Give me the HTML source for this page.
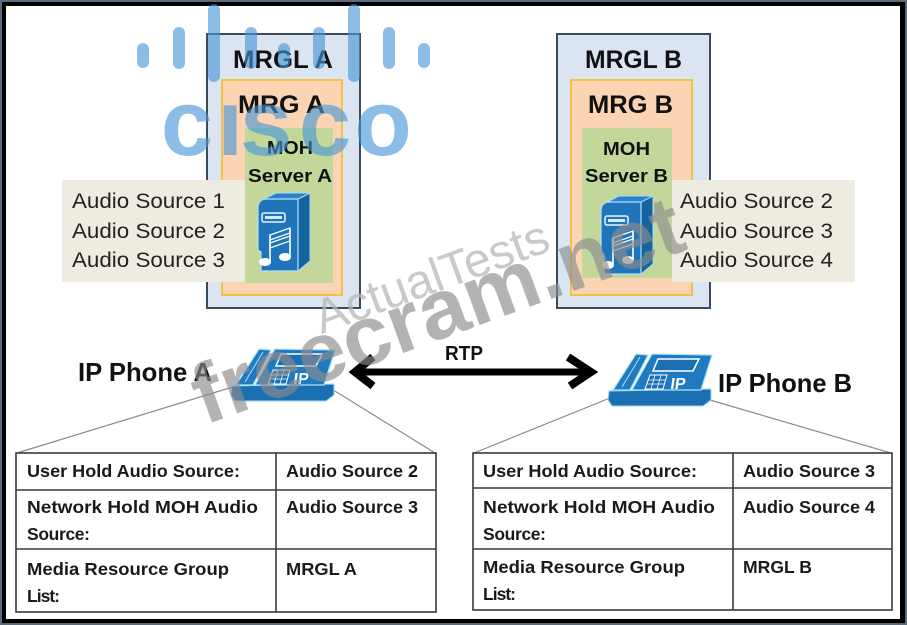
<!DOCTYPE html>
<html><head><meta charset="utf-8"><style>
html,body{margin:0;padding:0;background:#fff;}
svg{display:block;}
</style></head><body>
<svg width="907" height="625" viewBox="0 0 907 625" xmlns="http://www.w3.org/2000/svg" font-family="'Liberation Sans', sans-serif">
<defs>
<g id="srv">
  <polygon points="43,7 55,1 55,69 43,79" fill="#16649f" stroke="#a8d8f5" stroke-width="1"/>
  <polygon points="9,7 43,7 55,1 21,1" fill="#2a82c6" stroke="#a8d8f5" stroke-width="1"/>
  <path d="M3,16 Q3,7 12,7 L43,7 L43,79 L6,79 L6,60 L3,58 Z" fill="#1f74ba" stroke="#b5e0f7" stroke-width="1.2"/>
  <rect x="7" y="21" width="23" height="9" rx="2" fill="none" stroke="#e8f6ff" stroke-width="1.5"/>
  <rect x="10" y="24" width="17" height="3" fill="#cfeeff"/>
  <polygon points="15,43 35,36 35,41 15,48" fill="#1f74ba" stroke="#fff" stroke-width="1.2"/>
  <polygon points="15,51 35,44 35,49 15,56" fill="#1f74ba" stroke="#fff" stroke-width="1.2"/>
  <line x1="15" y1="43" x2="15" y2="69" stroke="#fff" stroke-width="1.6"/>
  <line x1="35" y1="36" x2="35" y2="64" stroke="#fff" stroke-width="1.6"/>
  <ellipse cx="10" cy="70" rx="6" ry="4" fill="#fff"/>
  <ellipse cx="30" cy="65" rx="6" ry="4" fill="#fff"/>
</g>
<g id="phone">
  <polygon points="9,46 111,44 111,55 103,61 12,61 8,55" fill="#1a6fb3" stroke="#9fd4f4" stroke-width="1"/>
  <polygon points="32,45 101,45 112,10 52,9" fill="#1f7ac0" stroke="#b0e0f8" stroke-width="1.2"/>
  <polygon points="13,45 30,45 48,10 36,9" fill="#1f7ac0" stroke="#b0e0f8" stroke-width="1.2"/>
  <line x1="22" y1="42" x2="40" y2="12" stroke="#b0e0f8" stroke-width="1"/>
  <polygon points="58,14 99,14 93,26 53,26" fill="#1a6fb3" stroke="#fff" stroke-width="1.5"/>
  <polygon points="50,30 67,30 63,44 45,44" fill="#1a6fb3" stroke="#fff" stroke-width="1"/>
  <line x1="48" y1="35" x2="66" y2="35" stroke="#fff" stroke-width="0.8"/>
  <line x1="47" y1="39" x2="65" y2="39" stroke="#fff" stroke-width="0.8"/>
  <line x1="55" y1="30" x2="51" y2="44" stroke="#fff" stroke-width="0.8"/>
  <line x1="61" y1="30" x2="57" y2="44" stroke="#fff" stroke-width="0.8"/>
  <text x="70" y="44" font-size="16" font-weight="bold" fill="#fff" transform="skewX(-8) translate(6,0)">IP</text>
  <line x1="101" y1="45" x2="112" y2="10" stroke="#b0e0f8" stroke-width="1"/>
</g>
</defs>

<!-- frame -->
<rect width="907" height="625" fill="#5b6b7c"/>
<rect x="2" y="2" width="903" height="621" fill="#000"/>
<rect x="6" y="6" width="894" height="613" fill="#fff"/>

<!-- MRGL A -->
<rect x="207" y="34" width="153" height="274" fill="#dbe5f1" stroke="#3b4b5e" stroke-width="2"/>
<rect x="222" y="80" width="120" height="215" fill="#fbd4b4" stroke="#f3c244" stroke-width="2"/>
<rect x="245" y="128" width="88" height="155" fill="#c4d79b"/>
<rect x="62" y="180" width="183" height="102" fill="#eeece1"/>

<!-- MRGL B -->
<rect x="557" y="34" width="153" height="274" fill="#dbe5f1" stroke="#3b4b5e" stroke-width="2"/>
<rect x="571" y="80" width="121" height="215" fill="#fbd4b4" stroke="#f3c244" stroke-width="2"/>
<rect x="582" y="128" width="90" height="150" fill="#c4d79b"/>
<rect x="672" y="180" width="183" height="102" fill="#eeece1"/>

<g fill="#111" font-weight="bold">
  <text x="233" y="68" font-size="25" textLength="100" lengthAdjust="spacingAndGlyphs">MRGL A</text>
  <text x="238" y="113" font-size="25" textLength="87" lengthAdjust="spacingAndGlyphs">MRG A</text>
  <text x="267" y="154" font-size="18" textLength="46" lengthAdjust="spacingAndGlyphs">MOH</text>
  <text x="248" y="182" font-size="18" textLength="84" lengthAdjust="spacingAndGlyphs">Server  A</text>
  <text x="585" y="68" font-size="25" textLength="97" lengthAdjust="spacingAndGlyphs">MRGL B</text>
  <text x="588" y="113" font-size="25" textLength="85" lengthAdjust="spacingAndGlyphs">MRG B</text>
  <text x="603" y="155" font-size="18" textLength="47" lengthAdjust="spacingAndGlyphs">MOH</text>
  <text x="585" y="182" font-size="18" textLength="83" lengthAdjust="spacingAndGlyphs">Server  B</text>
</g>

<g fill="#222" font-size="21">
  <text x="72" y="208" textLength="153" lengthAdjust="spacingAndGlyphs">Audio Source 1</text>
  <text x="72" y="238" textLength="153" lengthAdjust="spacingAndGlyphs">Audio Source 2</text>
  <text x="72" y="267" textLength="153" lengthAdjust="spacingAndGlyphs">Audio Source 3</text>
  <text x="680" y="208" textLength="153" lengthAdjust="spacingAndGlyphs">Audio Source 2</text>
  <text x="680" y="238" textLength="153" lengthAdjust="spacingAndGlyphs">Audio Source 3</text>
  <text x="680" y="267" textLength="153" lengthAdjust="spacingAndGlyphs">Audio Source 4</text>
</g>

<use href="#srv" x="255" y="192"/>
<use href="#srv" x="598" y="195"/>

<!-- connector lines -->
<g stroke="#8a8a8a" stroke-width="1.2">
  <line x1="236" y1="386" x2="17" y2="453"/>
  <line x1="330" y1="388" x2="435" y2="453"/>
  <line x1="610" y1="398" x2="474" y2="453"/>
  <line x1="703" y1="398" x2="891" y2="453"/>
</g>

<use href="#phone" x="223" y="340"/>
<use href="#phone" x="600" y="345"/>

<g fill="#111" font-weight="bold">
  <text x="78" y="381" font-size="26" textLength="134" lengthAdjust="spacingAndGlyphs">IP Phone A</text>
  <text x="718" y="392" font-size="26" textLength="134" lengthAdjust="spacingAndGlyphs">IP Phone B</text>
  <text x="445" y="360" font-size="20" textLength="38" lengthAdjust="spacingAndGlyphs">RTP</text>
</g>

<!-- RTP arrow -->
<line x1="360" y1="372" x2="588" y2="372" stroke="#000" stroke-width="7"/>
<polyline points="373,357 355,372 373,386" fill="none" stroke="#000" stroke-width="8" stroke-linejoin="miter"/>
<polyline points="568,357 591,372 570,386" fill="none" stroke="#000" stroke-width="8" stroke-linejoin="miter"/>

<!-- tables -->
<g fill="none" stroke="#3a3a3a" stroke-width="1.6">
  <rect x="16" y="453" width="420" height="159"/>
  <line x1="16" y1="490" x2="436" y2="490"/>
  <line x1="16" y1="549" x2="436" y2="549"/>
  <line x1="276" y1="453" x2="276" y2="612"/>
  <rect x="473" y="453" width="419" height="157"/>
  <line x1="473" y1="488" x2="892" y2="488"/>
  <line x1="473" y1="549" x2="892" y2="549"/>
  <line x1="733" y1="453" x2="733" y2="610"/>
</g>
<g fill="#1a1a1a" font-weight="bold" font-size="17.5">
  <text x="27" y="477" textLength="213" lengthAdjust="spacingAndGlyphs">User Hold Audio Source:</text>
  <text x="27" y="513" textLength="231" lengthAdjust="spacingAndGlyphs">Network Hold MOH Audio</text>
  <text x="27" y="540" textLength="63" lengthAdjust="spacing">Source:</text>
  <text x="27" y="575" textLength="202" lengthAdjust="spacingAndGlyphs">Media Resource Group</text>
  <text x="27" y="602" textLength="33" lengthAdjust="spacing">List:</text>
  <text x="286" y="477" textLength="132" lengthAdjust="spacingAndGlyphs">Audio Source 2</text>
  <text x="286" y="513" textLength="132" lengthAdjust="spacingAndGlyphs">Audio Source 3</text>
  <text x="286" y="575" textLength="71" lengthAdjust="spacingAndGlyphs">MRGL A</text>

  <text x="483" y="477" textLength="214" lengthAdjust="spacingAndGlyphs">User Hold Audio Source:</text>
  <text x="483" y="513" textLength="232" lengthAdjust="spacingAndGlyphs">Network Hold MOH Audio</text>
  <text x="483" y="540" textLength="63" lengthAdjust="spacing">Source:</text>
  <text x="483" y="573" textLength="202" lengthAdjust="spacingAndGlyphs">Media Resource Group</text>
  <text x="483" y="600" textLength="33" lengthAdjust="spacing">List:</text>
  <text x="743" y="477" textLength="132" lengthAdjust="spacingAndGlyphs">Audio Source 3</text>
  <text x="743" y="513" textLength="132" lengthAdjust="spacingAndGlyphs">Audio Source 4</text>
  <text x="743" y="573" textLength="69" lengthAdjust="spacingAndGlyphs">MRGL B</text>
</g>

<!-- cisco watermark -->
<g fill="rgb(70,150,215)" opacity="0.62">
  <rect x="137" y="43" width="12" height="25" rx="6"/>
  <rect x="173" y="27" width="12" height="42" rx="6"/>
  <rect x="208" y="4" width="12" height="78" rx="6"/>
  <rect x="245" y="27" width="12" height="42" rx="6"/>
  <rect x="278" y="43" width="12" height="25" rx="6"/>
  <rect x="313" y="27" width="12" height="42" rx="6"/>
  <rect x="348" y="4" width="12" height="78" rx="6"/>
  <rect x="383" y="27" width="12" height="42" rx="6"/>
  <rect x="418" y="43" width="12" height="25" rx="6"/>
  <g font-size="94" font-weight="bold" text-anchor="middle">
    <text x="187" y="155">c</text>
    <text x="230" y="155">ı</text>
    <text x="266" y="155">s</text>
    <text x="325" y="155">c</text>
    <text x="383" y="155">o</text>
  </g>
</g>

<!-- gray watermarks -->
<text x="437" y="292" font-size="48" fill="#b8b8b8" opacity="0.75" text-anchor="middle" textLength="246" lengthAdjust="spacingAndGlyphs" transform="rotate(-20 437 292)">ActualTests</text>
<text x="447" y="337" font-size="84" font-weight="bold" fill="#8c8c8c" opacity="0.65" text-anchor="middle" textLength="516" lengthAdjust="spacingAndGlyphs" transform="rotate(-20 447 337)">freecram.net</text>
</svg>
</body></html>
